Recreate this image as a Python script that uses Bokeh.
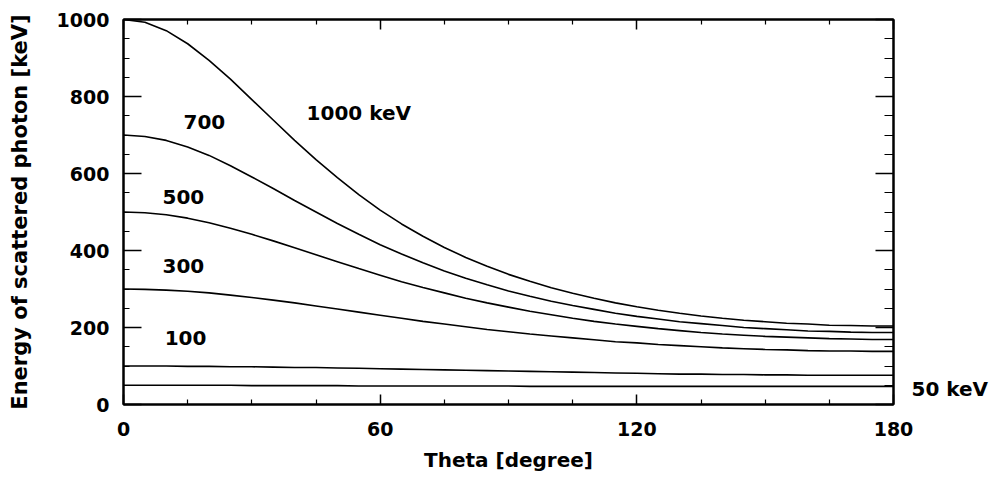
from bokeh.plotting import figure
from bokeh.models import Range1d, FixedTicker, LinearAxis, Label
from bokeh.embed import file_html
from bokeh.resources import INLINE

# ---- data ----
theta = [0, 5, 10, 15, 20, 25, 30, 35, 40, 45, 50, 55, 60, 65, 70, 75, 80, 85, 90,
         95, 100, 105, 110, 115, 120, 125, 130, 135, 140, 145, 150, 155, 160, 165, 170, 175, 180]
e1000 = [1000, 993, 971, 937, 894, 845, 792, 739, 686, 636, 589, 545, 505, 469, 437, 408, 382, 359, 338,
         320, 303, 289, 276, 264, 254, 245, 237, 230, 224, 219, 215, 211, 209, 206, 205, 204, 204]
e700 = [700, 696, 686, 669, 647, 620, 591, 561, 530, 500, 470, 442, 415, 391, 368, 347, 328, 311, 295,
        281, 268, 257, 247, 237, 229, 222, 215, 210, 205, 200, 197, 194, 191, 190, 188, 187, 187]
e500 = [500, 498, 493, 484, 472, 458, 442, 425, 407, 389, 371, 353, 336, 319, 304, 290, 276, 264, 253,
        242, 233, 224, 216, 209, 203, 197, 192, 187, 183, 180, 177, 175, 173, 171, 170, 169, 169]
e300 = [300, 299, 297, 294, 290, 284, 278, 271, 264, 256, 248, 240, 232, 224, 216, 209, 202, 195, 189,
        183, 178, 173, 168, 163, 160, 156, 153, 150, 147, 145, 143, 142, 140, 139, 139, 138, 138]
e100 = [100, 100, 100, 99, 99, 98, 98, 97, 96, 96, 95, 94, 93, 92, 91, 90, 89, 88, 87,
        86, 85, 84, 83, 82, 81, 80, 79, 79, 78, 78, 77, 77, 76, 76, 76, 76, 76]
e50 = [50, 50, 50, 50, 50, 50, 49, 49, 49, 49, 49, 48, 48, 48, 48, 48, 48, 48, 48,
       47, 47, 47, 47, 47, 47, 47, 47, 47, 47, 47, 47, 47, 47, 47, 47, 47, 47]

series_names = ["1000 keV", "700", "500", "300", "100", "50 keV"]
series_values = [e1000, e700, e500, e300, e100, e50]

x_ticks = [0, 60, 120, 180]
x_minor = [15, 30, 45, 75, 90, 105, 135, 150, 165]
y_ticks = [0, 200, 400, 600, 800, 1000]
y_minor = [50, 100, 150, 250, 300, 350, 450, 500, 550, 650, 700, 750, 850, 900, 950]

x_title = "Theta [degree]"
y_title = "Energy of scattered photon [keV]"

# annotation anchors (data coords)
label_x = [55.0, 18.9, 14.0, 14.0, 14.5]
label_y = [758, 735, 538, 361, 174]
label_50_y = 39

FONT = "DejaVu Sans"

p = figure(width=998, height=488, output_backend="svg", toolbar_location=None,
           x_range=Range1d(0, 180), y_range=Range1d(0, 1000),
           min_border_left=123, min_border_right=105, min_border_top=19, min_border_bottom=84)
p.grid.visible = False
p.background_fill_color = "white"
p.border_fill_color = "white"
p.outline_line_color = "black"
p.outline_line_width = 2

for vals in series_values:
    p.line(theta, vals, line_color="black", line_width=1.6)

def style_axis(ax, show_labels):
    ax.axis_line_color = "black"
    ax.axis_line_width = 2
    ax.major_tick_line_color = "black"
    ax.minor_tick_line_color = "black"
    ax.major_tick_line_width = 1.5
    ax.minor_tick_line_width = 1.2
    ax.major_tick_out = 0
    ax.minor_tick_out = 0
    ax.major_label_text_font = FONT
    ax.major_label_text_font_style = "bold"
    ax.major_label_text_font_size = "19px"
    ax.major_label_text_color = "black"
    ax.axis_label_text_font = FONT
    ax.axis_label_text_font_style = "bold"
    ax.axis_label_text_color = "black"
    if not show_labels:
        ax.major_label_text_font_size = "0px"
        ax.major_label_text_alpha = 0
        ax.major_label_standoff = 0

xa = p.xaxis[0]
xa.ticker = FixedTicker(ticks=x_ticks, minor_ticks=x_minor)
style_axis(xa, True)
xa.major_tick_in = 10
xa.minor_tick_in = 5
xa.major_label_standoff = 17
xa.axis_label = x_title
xa.axis_label_text_font_size = "20px"
xa.axis_label_standoff = 9

ya = p.yaxis[0]
ya.ticker = FixedTicker(ticks=y_ticks, minor_ticks=y_minor)
style_axis(ya, True)
ya.major_tick_in = 18
ya.minor_tick_in = 6
ya.major_label_standoff = 14
ya.axis_label = y_title
ya.axis_label_text_font_size = "21px"
ya.axis_label_standoff = 22

top = LinearAxis(ticker=FixedTicker(ticks=x_ticks, minor_ticks=x_minor))
style_axis(top, False)
top.major_tick_in = 10
top.minor_tick_in = 5
p.add_layout(top, "above")

right = LinearAxis(ticker=FixedTicker(ticks=y_ticks, minor_ticks=y_minor))
style_axis(right, False)
right.major_tick_in = 18
right.minor_tick_in = 9
p.add_layout(right, "right")

# second right axis used only to carry the "50 keV" curve label outside the frame
right_lbl = LinearAxis(ticker=FixedTicker(ticks=[label_50_y], minor_ticks=[]),
                       major_label_overrides={label_50_y: series_names[5]})
style_axis(right_lbl, True)
right_lbl.axis_line_alpha = 0
right_lbl.major_tick_in = 0
right_lbl.major_tick_out = 0
right_lbl.major_tick_line_alpha = 0
right_lbl.major_label_text_font_size = "20px"
right_lbl.major_label_standoff = 18
p.add_layout(right_lbl, "right")

for name, lx, ly in zip(series_names[:5], label_x, label_y):
    p.add_layout(Label(x=lx, y=ly, text=name, text_font=FONT, text_font_style="bold",
                       text_font_size="20px", text_color="black",
                       text_align="center", text_baseline="middle"))

open("out.html", "w").write(file_html(p, INLINE))
